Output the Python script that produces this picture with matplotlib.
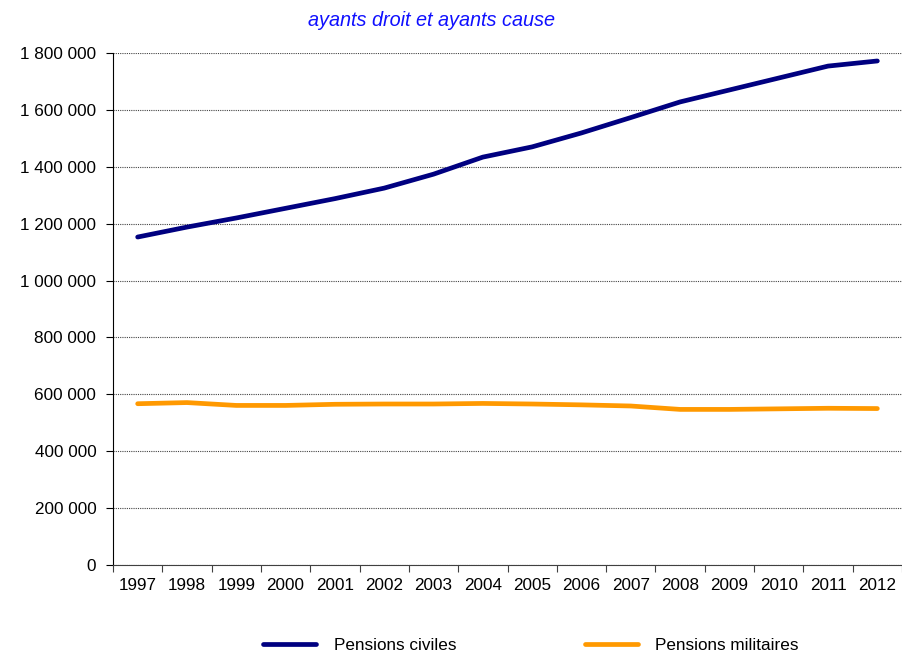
import matplotlib
matplotlib.use("Agg")
import matplotlib.pyplot as plt
from matplotlib.ticker import FuncFormatter, FixedLocator

plt.rcParams['font.family'] = ['Liberation Sans', 'DejaVu Sans']

# Données
annees = [str(a) for a in range(1997, 2013)]
pensions_civiles = [1153000, 1188000, 1220000, 1254000, 1288000, 1325000, 1374000, 1434000,
                    1470000, 1519000, 1573000, 1628000, 1670000, 1712000, 1754000, 1772000]
pensions_militaires = [567000, 571000, 561000, 561000, 565000, 566000, 566000, 568000,
                       566000, 563000, 559000, 547000, 547000, 549000, 551000, 550000]

fig = plt.figure(figsize=(9.02, 6.53), dpi=100)
ax = fig.add_axes([113 / 902, 1 - 565 / 653, 789 / 902, 512 / 653])

x = list(range(len(annees)))
ax.plot(x, pensions_civiles, color='#000080', linewidth=3.4, solid_capstyle='round',
        label='Pensions civiles')
ax.plot(x, pensions_militaires, color='#FF9900', linewidth=3.4, solid_capstyle='round',
        label='Pensions militaires')

ax.set_xlim(-0.5, len(annees) - 0.5)
ax.set_ylim(0, 1800000)

# Graduations : traits entre les catégories, étiquettes au centre
ax.xaxis.set_major_locator(FixedLocator([i - 0.5 for i in range(len(annees) + 1)]))
ax.xaxis.set_minor_locator(FixedLocator(x))
ax.set_xticklabels([], minor=False)
ax.set_xticklabels(annees, minor=True)
ax.tick_params(axis='x', which='major', length=5, width=0.8, color='#404040')
ax.tick_params(axis='x', which='minor', length=0, pad=9, labelsize=12.3)

ax.set_yticks(range(0, 1800001, 200000))
ax.yaxis.set_major_formatter(FuncFormatter(lambda v, p: f"{int(v):,}".replace(',', ' ')))
ax.tick_params(axis='y', length=5, width=0.8, labelsize=12.3, pad=7)

ax.grid(axis='y', linestyle=(0, (1, 1)), color='#444444', linewidth=0.8)
ax.set_axisbelow(True)

for s in ['top', 'right']:
    ax.spines[s].set_visible(False)
ax.spines['left'].set_color('black')
ax.spines['bottom'].set_color('#404040')

fig.text(432 / 902, 1 - 20 / 653, 'ayants droit et ayants cause', color='#1010FF',
         fontsize=14.3, style='italic', ha='center', va='center')

fig.legend(loc='center', bbox_to_anchor=(531 / 902, 1 - 645 / 653), ncol=2, frameon=False,
           fontsize=12.3, handlelength=3.1, columnspacing=7.5, handletextpad=1.05)

fig.savefig('out.png', dpi=100)
